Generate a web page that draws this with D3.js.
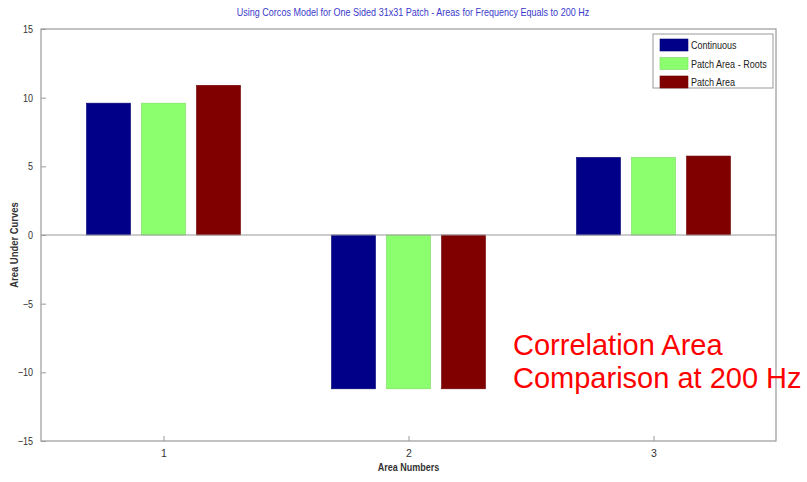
<!DOCTYPE html>
<html>
<head>
<meta charset="utf-8">
<script src="https://cdn.jsdelivr.net/npm/d3@7"></script>
<style>
  html, body { margin: 0; padding: 0; background: #fff; }
  svg { display: block; }
</style>
</head>
<body>
<svg id="chart" width="807" height="482"></svg>
<script>
const categories = [1, 2, 3];
const seriesNames = ["Continuous", "Patch Area - Roots", "Patch Area"];
const continuous = [9.6, -11.2, 5.65];
const patchAreaRoots = [9.6, -11.2, 5.65];
const patchArea = [10.9, -11.2, 5.75];
const yTicks = [-15, -10, -5, 0, 5, 10, 15];
const colors = ["#000088", "#8cff6e", "#800000"];

const seriesValues = [continuous, patchAreaRoots, patchArea];

const svg = d3.select("#chart");
const font = "'Liberation Sans', Arial, sans-serif";
const mLeft = 41, mRight = 776, mTop = 29, mBottom = 441;
const squeeze = 0.86;

// condensed text helper (no narrow font installed)
function narrowText(parent, tx, ty, str, opts) {
  const g = parent.append("g").attr("transform", `translate(${tx},${ty}) ${opts.rotate ? "rotate(" + opts.rotate + ")" : ""} scale(${squeeze},1)`);
  return g.append("text")
    .attr("text-anchor", opts.anchor || "start")
    .attr("font-family", font)
    .attr("font-size", opts.size || 10.5)
    .attr("font-weight", opts.weight || "normal")
    .attr("fill", opts.fill || "#333")
    .text(str);
}

const x = d3.scaleLinear().domain([0.5, 3.5]).range([mLeft, mRight]);
const y = d3.scaleLinear().domain([-15, 15]).range([mBottom, mTop]);
const groupW = x(1.6286) - x(1);
const sub = d3.scaleBand().domain(d3.range(3)).range([-groupW / 2, groupW / 2]).paddingInner(0.2).paddingOuter(0);

// title
narrowText(svg, 413, 16, "Using Corcos Model for One Sided 31x31 Patch - Areas for Frequency Equals to 200 Hz",
  { anchor: "middle", size: 10.5, fill: "#3a3acc" });

// bars
const rows = [];
seriesValues.forEach((vals, s) => vals.forEach((v, i) => rows.push({ s, cat: categories[i], v })));
svg.append("g").selectAll("rect").data(rows).enter().append("rect")
  .attr("x", d => x(d.cat) + sub(d.s))
  .attr("width", sub.bandwidth())
  .attr("y", d => Math.min(y(d.v), y(0)))
  .attr("height", d => Math.abs(y(d.v) - y(0)))
  .attr("fill", d => colors[d.s])
  .attr("stroke", d => d3.color(colors[d.s]).darker(0.4))
  .attr("stroke-width", 0.6);

// zero baseline
const axisColor = "#9a9a9a";
svg.append("line")
  .attr("x1", mLeft).attr("x2", mRight)
  .attr("y1", y(0)).attr("y2", y(0))
  .attr("stroke", axisColor).attr("stroke-width", 1.2);

// axes box
svg.append("rect")
  .attr("x", mLeft).attr("y", mTop).attr("width", mRight - mLeft).attr("height", mBottom - mTop)
  .attr("fill", "none").attr("stroke", axisColor).attr("stroke-width", 1.2);

const yAxis = d3.axisLeft(y).tickValues(yTicks).tickSize(-5).tickPadding(8);
const gy = svg.append("g").attr("transform", `translate(${mLeft},0)`).call(yAxis);
gy.select(".domain").remove();
gy.selectAll("line").attr("stroke", axisColor);
gy.selectAll("text").attr("font-family", font).attr("font-size", 10.5).attr("fill", "#333")
  .attr("transform", `scale(${squeeze},1)`).attr("x", -8 / squeeze);

const xAxis = d3.axisBottom(x).tickValues(categories).tickSize(-5).tickPadding(9).tickFormat(d3.format("d"));
const gx = svg.append("g").attr("transform", `translate(0,${mBottom})`).call(xAxis);
gx.select(".domain").remove();
gx.selectAll("line").attr("stroke", axisColor);
gx.selectAll("text").attr("font-family", font).attr("font-size", 10.5).attr("fill", "#333");

// axis labels
narrowText(svg, x(2), 471, "Area Numbers", { anchor: "middle", size: 10.5, weight: "bold" });
narrowText(svg, 18, y(0) + 10, "Area Under Curves", { anchor: "middle", size: 11, weight: "bold", rotate: -90 });

// legend
const lg = svg.append("g");
lg.append("rect")
  .attr("x", 653).attr("y", 34).attr("width", 120).attr("height", 54)
  .attr("fill", "#fff").attr("stroke", "#9a9a9a").attr("stroke-width", 1);
seriesNames.forEach((name, i) => {
  const cy = 45 + i * 18.5;
  lg.append("rect")
    .attr("x", 660).attr("y", cy - 6).attr("width", 28).attr("height", 12)
    .attr("fill", colors[i]).attr("stroke", d3.color(colors[i]).darker(0.4)).attr("stroke-width", 0.6);
  narrowText(lg, 691, cy + 4, name, { size: 10.5, fill: "#222" });
});

// annotation
const ann = svg.append("text")
  .attr("font-family", font).attr("font-size", 29)
  .attr("fill", "#ff0000");
ann.append("tspan").attr("x", 513).attr("y", 355).text("Correlation Area");
ann.append("tspan").attr("x", 513).attr("y", 388).text("Comparison at 200 Hz");
</script>
</body>
</html>
